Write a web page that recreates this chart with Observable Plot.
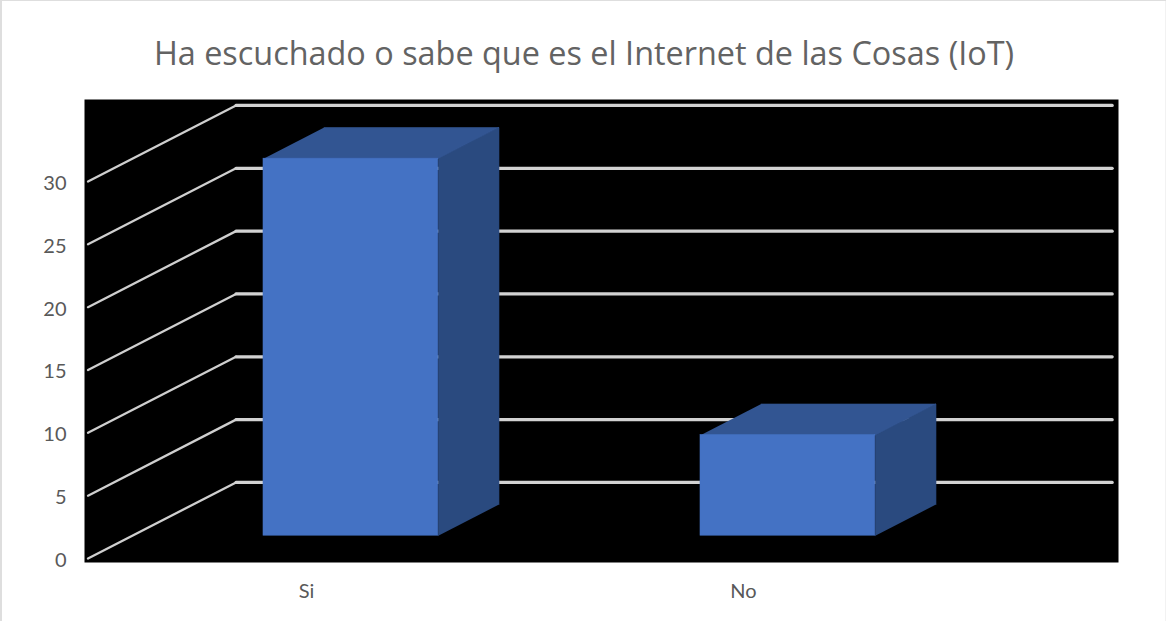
<!DOCTYPE html>
<html lang="es">
<head>
<meta charset="utf-8">
<script src="https://cdn.jsdelivr.net/npm/d3@7"></script>
<script src="https://cdn.jsdelivr.net/npm/@observablehq/plot@0.6"></script>
<style>
  html, body { margin: 0; padding: 0; background: #fff; }
  #chart {
    width: 1166px; height: 621px; overflow: hidden;
    box-shadow: inset 2px 1px 0 #dedede, inset -1px 0 0 #f2f2f2;
  }
  #title {
    height: 99px; box-sizing: border-box; padding-top: 31px;
    text-align: center; white-space: nowrap; text-indent: 2px;
    font: 32.4px/1.3 "Open Sans", sans-serif; color: #636363;
  }
  #chart svg { display: block; }
</style>
</head>
<body>
<div id="chart">
  <div id="title">Ha escuchado o sabe que es el Internet de las Cosas (IoT)</div>
</div>
<script>
const categories = ["Si", "No"];
const values = [30, 8];
const gridValues = [0, 5, 10, 15, 20, 25, 30];

// Oblique projection: one full step of depth, expressed in x and y scale units.
const depthX = 0.3387;
const depthY = 6.05;
const project = (x, v, d) => ({x: x + d * depthX, y: v + d * depthY});

// Depth span and width of the columns inside their category band.
const depthNear = 0.3;
const depthFar = 0.71;
const halfWidth = 0.2;
const floorEnd = categories.length + 0.005;

const gridWall = gridValues.flatMap((v) => [
  {...project(0, v, 0), v},
  {...project(0, v, 1), v}
]);
const gridBack = gridValues.flatMap((v) => [
  {...project(0, v, 1), v},
  {...project(floorEnd, v, 1), v}
]);

const bars = categories.map((name, i) => ({
  name,
  value: values[i],
  left: i + 0.5 - halfWidth,
  right: i + 0.5 + halfWidth
}));

const frontFaces = bars.map((b) => {
  const a = project(b.left, 0, depthNear);
  const c = project(b.right, b.value, depthNear);
  return {x1: a.x, x2: c.x, y1: a.y, y2: c.y};
});
const topFaces = bars.flatMap((b) => [
  project(b.left, b.value, depthNear),
  project(b.right, b.value, depthNear),
  project(b.right, b.value, depthFar),
  project(b.left, b.value, depthFar)
].map((p) => ({...p, name: b.name})));
const sideFaces = bars.flatMap((b) => [
  project(b.right, 0, depthNear),
  project(b.right, b.value, depthNear),
  project(b.right, b.value, depthFar),
  project(b.right, 0, depthFar)
].map((p) => ({...p, name: b.name})));

const plot = Plot.plot({
  width: 1166,
  height: 522,
  marginLeft: 84,
  marginRight: 48,
  marginTop: 0,
  marginBottom: 59,
  style: {background: "transparent", fontFamily: "Lato, sans-serif"},
  x: {domain: [0, categories.length], range: [87.5, 961.5]},
  y: {domain: [0, 30], range: [459, 82]},
  marks: [
    Plot.frame({fill: "#000", stroke: "none"}),
    Plot.line(gridWall, {x: "x", y: "y", z: "v", stroke: "#cfcfcf", strokeWidth: 2.3}),
    Plot.line(gridBack, {x: "x", y: "y", z: "v", stroke: "#d2d2d2", strokeWidth: 3.2}),
    Plot.line(sideFaces, {x: "x", y: "y", z: "name", fill: "#2a4a7f", stroke: "#2a4a7f", strokeWidth: 0.6}),
    Plot.line(topFaces, {x: "x", y: "y", z: "name", fill: "#325592", stroke: "#325592", strokeWidth: 0.6}),
    Plot.rect(frontFaces, {x1: "x1", x2: "x2", y1: "y1", y2: "y2", fill: "#4472c4", stroke: "#4472c4", strokeWidth: 0.6}),
    Plot.axisY({
      ticks: gridValues, tickSize: 0, tickPadding: 18, label: null,
      fontSize: 20, dy: 2, color: "#595959"
    }),
    Plot.axisX({
      ticks: categories.map((_, i) => i + 0.5),
      tickFormat: (t) => categories[Math.floor(t)],
      tickSize: 0, tickPadding: 21, label: null,
      fontSize: 20, color: "#595959"
    })
  ]
});
document.getElementById("chart").append(plot);
</script>
</body>
</html>
